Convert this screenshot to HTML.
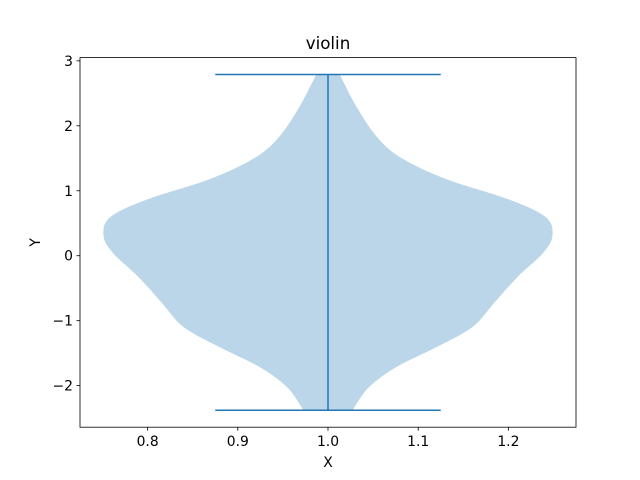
<!DOCTYPE html>
<html><head><meta charset="utf-8"><style>
html,body{margin:0;padding:0;background:#fff;}
svg{display:block;font-family:"DejaVu Sans","Liberation Sans",sans-serif;}
</style></head><body>
<svg id="chart" width="640" height="480" viewBox="0 0 640 480">
<rect x="0" y="0" width="640" height="480" fill="#fff"/>
<g id="plot"></g>
</svg>
<script>
const yValues = [2.79, 2.26, 1.80, 1.49, 1.18, 0.87, 0.60, 0.32, 0.05, -0.33, -0.73, -1.10, -1.41, -1.72, -2.03, -2.38];
const halfWidths = [0.013, 0.033, 0.056, 0.083, 0.131, 0.20, 0.241, 0.249, 0.239, 0.21, 0.184, 0.16, 0.12, 0.075, 0.045, 0.027];
const dataMin = -2.38;
const dataMax = 2.79;
const position = 1.0;
const xTicks = [0.8, 0.9, 1.0, 1.1, 1.2];
const yTicks = [-2, -1, 0, 1, 2, 3];

const L=80,R=576,T=57.6,B=427.2;
const xmin=0.725,xmax=1.275,ymin=-2.64,ymax=3.05;
const sx=v=>L+(v-xmin)/(xmax-xmin)*(R-L);
const sy=v=>B-(v-ymin)/(ymax-ymin)*(B-T);
const NS="http://www.w3.org/2000/svg";
const g=document.getElementById('plot');
function mk(tag,attrs,parent){const e=document.createElementNS(NS,tag);for(const k in attrs)e.setAttribute(k,attrs[k]);(parent||g).appendChild(e);return e;}

function smooth(pts){
  let d=`M${pts[0][0]},${pts[0][1]}`;
  for(let i=0;i<pts.length-1;i++){
    const p0=pts[Math.max(0,i-1)],p1=pts[i],p2=pts[i+1],p3=pts[Math.min(pts.length-1,i+2)];
    const c1=[p1[0]+(p2[0]-p0[0])/6,p1[1]+(p2[1]-p0[1])/6];
    const c2=[p2[0]-(p3[0]-p1[0])/6,p2[1]-(p3[1]-p1[1])/6];
    d+=`C${c1[0]},${c1[1]} ${c2[0]},${c2[1]} ${p2[0]},${p2[1]}`;
  }
  return d;
}
const left=yValues.map((y,i)=>[sx(position-halfWidths[i]),sy(y)]);
const right=yValues.map((y,i)=>[sx(position+halfWidths[i]),sy(y)]).reverse();
let d=smooth(left)+'L'+right[0][0]+','+right[0][1]+smooth(right).replace(/^M[^C]*/,'')+'Z';
const body=mk('path',{d:d,fill:'#1f77b4','fill-opacity':0.3,stroke:'none'});



const vline=mk('line',{x1:sx(position),x2:sx(position),y1:sy(dataMax),y2:sy(dataMin),stroke:'#1f77b4','stroke-width':1.5});


const topCap=mk('line',{x1:sx(position-0.125),x2:sx(position+0.125),y1:sy(dataMax),y2:sy(dataMax),stroke:'#1f77b4','stroke-width':1.5});


const botCap=mk('line',{x1:sx(position-0.125),x2:sx(position+0.125),y1:sy(dataMin),y2:sy(dataMin),stroke:'#1f77b4','stroke-width':1.5});



const frame=mk('rect',{x:L,y:T,width:R-L,height:B-T,fill:'none',stroke:'#000','stroke-width':0.8});



xTicks.forEach(v=>{
  const x=sx(v);
  const t=mk('line',{x1:x,x2:x,y1:B,y2:B+3.5,stroke:'#000','stroke-width':0.8});
  
  
  const l=mk('text',{x:x,y:B+19,'font-size':13.9,'text-anchor':'middle',fill:'#000'});
  l.textContent=v.toFixed(1);
  
  
});
yTicks.forEach(v=>{
  const y=sy(v);
  const t=mk('line',{x1:L-3.5,x2:L,y1:y,y2:y,stroke:'#000','stroke-width':0.8});
  
  
  const l=mk('text',{x:L-7,y:y+5,'font-size':13.9,'text-anchor':'end',fill:'#000'});
  l.textContent=v<0?'\u2212'+Math.abs(v):String(v);
  
  
});
const title=mk('text',{x:(L+R)/2,y:49,'font-size':16.7,'text-anchor':'middle',fill:'#000'});
title.textContent='violin';


const xl=mk('text',{x:(L+R)/2,y:467,'font-size':13.9,'text-anchor':'middle',fill:'#000'});
xl.textContent='X';


const yl=mk('text',{x:0,y:0,'font-size':13.9,'text-anchor':'middle',fill:'#000',transform:`translate(40,${(T+B)/2}) rotate(-90)`});
yl.textContent='Y';


</script>
</body></html>
